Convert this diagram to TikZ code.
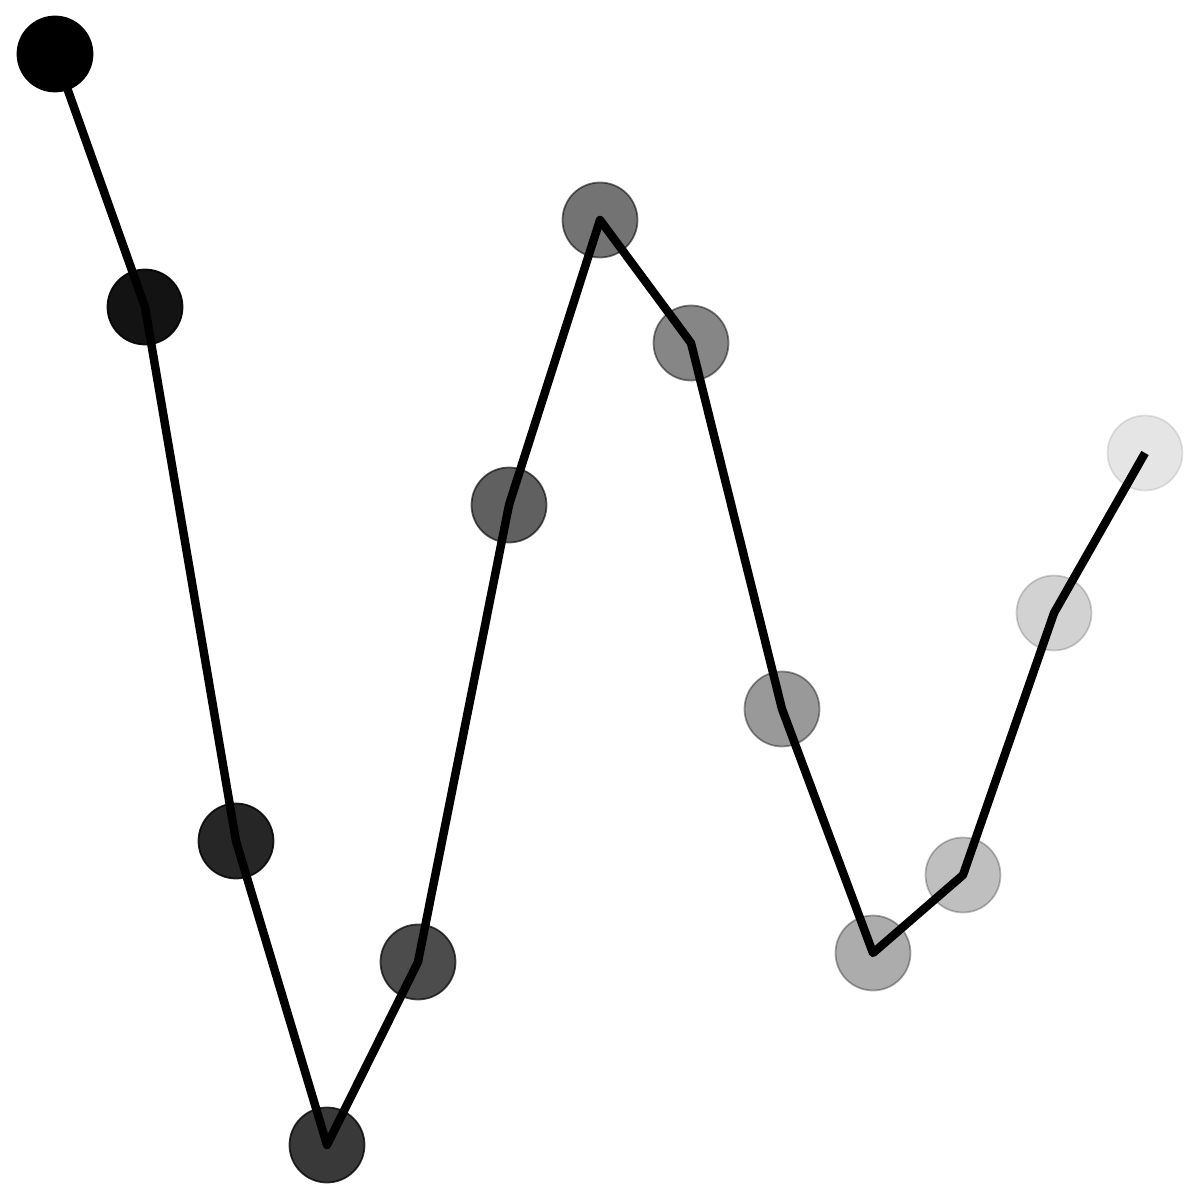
\documentclass[tikz,border=0pt]{standalone}
\usepackage{tikz}
\usetikzlibrary{shapes}
\tikzset{>=latex}
\tikzstyle{dot} = [circle, draw=black, fill=black, line width=0.5pt, minimum size=0.75cm, inner sep=0pt]
\tikzstyle{trace} = [-, draw=black, line width=2.4pt, line join=round]

\begin{document}
\begin{tikzpicture}
\useasboundingbox (0, 0) rectangle (12, 12);
\node [dot, opacity=1] (P1) at (0.55, 11.46) {};
\node [dot, opacity=0.925] (P2) at (1.45, 8.93) {};
\node [dot, opacity=0.85] (P3) at (2.36, 3.59) {};
\node [dot, opacity=0.775] (P4) at (3.27, 0.55) {};
\node [dot, opacity=0.7] (P5) at (4.18, 2.38) {};
\node [dot, opacity=0.625] (P6) at (5.09, 6.95) {};
\node [dot, opacity=0.55] (P7) at (6.00, 9.80) {};
\node [dot, opacity=0.475] (P8) at (6.91, 8.57) {};
\node [dot, opacity=0.4] (P9) at (7.82, 4.91) {};
\node [dot, opacity=0.325] (P10) at (8.73, 2.47) {};
\node [dot, opacity=0.25] (P11) at (9.63, 3.25) {};
\node [dot, opacity=0.175] (P12) at (10.54, 5.87) {};
\node [dot, opacity=0.1] (P13) at (11.45, 7.47) {};
\draw [trace] (P1.center) -- (P2.center) -- (P3.center) -- (P4.center)
  -- (P5.center) -- (P6.center) -- (P7.center) -- (P8.center)
  -- (P9.center) -- (P10.center) -- (P11.center) -- (P12.center)
  -- (P13.center);
\end{tikzpicture}
\end{document}
